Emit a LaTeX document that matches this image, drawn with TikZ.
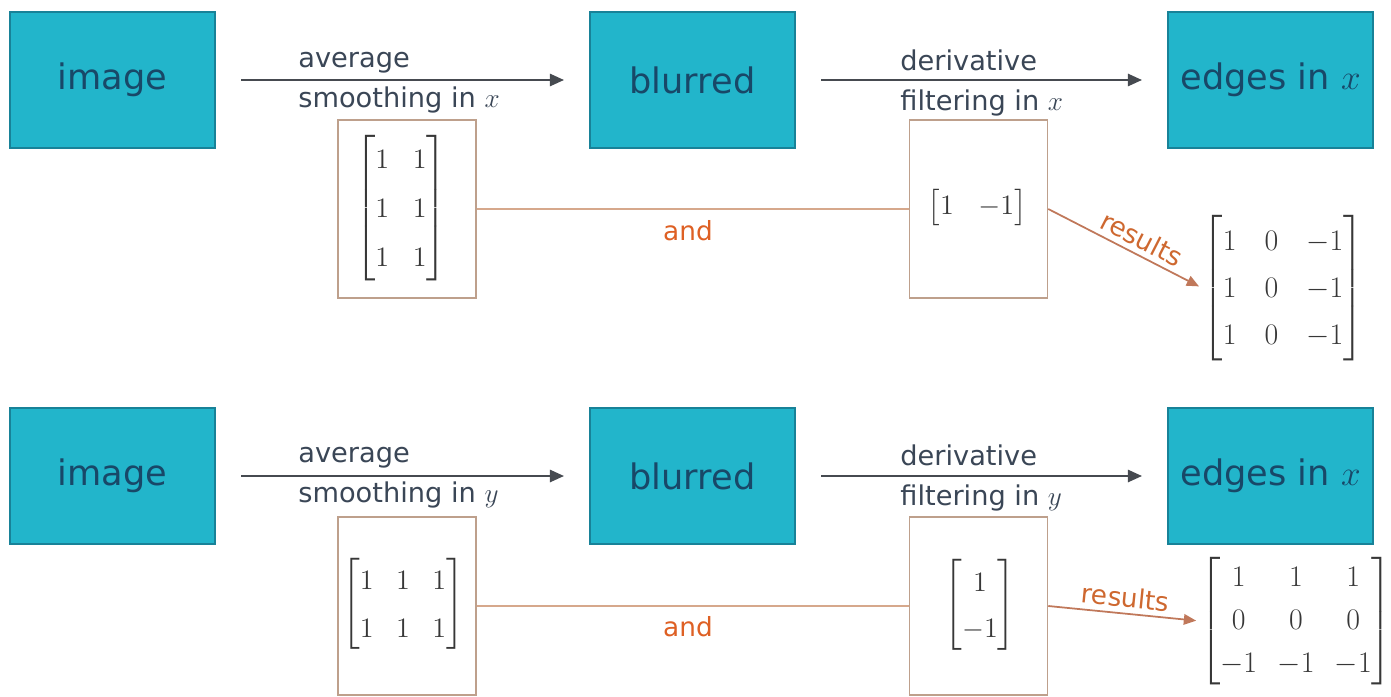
\RequirePackage{fix-cm}
\documentclass[tikz,border=0pt]{standalone}
\usepackage{amsmath}
\usepackage[no-math]{fontspec}
\usetikzlibrary{arrows.meta}
\newfontfamily\labelfont{DejaVu Sans}

\definecolor{tealfill}{RGB}{34,181,203}
\definecolor{tealdark}{RGB}{24,130,152}
\definecolor{boxtext}{RGB}{24,72,104}
\definecolor{labeltext}{RGB}{58,70,86}
\definecolor{flowgray}{RGB}{70,74,80}
\definecolor{kernelframe}{RGB}{190,160,140}
\definecolor{andcolor}{RGB}{214,168,140}
\definecolor{andtextcolor}{RGB}{222,96,36}
\definecolor{rescolor}{RGB}{192,120,90}
\definecolor{restextcolor}{RGB}{206,104,48}
\definecolor{mattext}{RGB}{55,55,55}

\begin{document}
\begin{tikzpicture}[x=0.02cm,y=-0.02cm,
  stage/.style={draw=tealdark, line width=1.2pt, fill=tealfill,
    minimum width=4.1cm, minimum height=2.72cm, inner sep=0pt,
    font=\labelfont\fontsize{20}{24}\selectfont, text=boxtext},
  kernelbox/.style={draw=kernelframe, line width=0.9pt,
    minimum width=2.76cm, minimum height=3.56cm, inner sep=0pt},
  kmat/.style={inner sep=0pt, text=mattext, font=\fontsize{16}{19.2}\selectfont},
  rmat/.style={inner sep=0pt, text=mattext, font=\fontsize{17}{20.4}\selectfont},
  flow/.style={draw=flowgray, line width=1pt, -{Triangle[length=8pt,width=7pt]},
    shorten <=0.5cm, shorten >=0.5cm},
  oplabel/.style={font=\labelfont\fontsize{15.5}{22.8}\selectfont, text=labeltext,
    align=left, anchor=west, inner sep=0pt},
  andline/.style={draw=andcolor, line width=1.1pt},
  andtext/.style={font=\labelfont\fontsize{15}{18}\selectfont, text=andtextcolor, inner sep=0pt},
  resarrow/.style={draw=rescolor, line width=1pt, -{Triangle[length=7pt,width=6pt]},
    shorten >=2pt},
  restext/.style={font=\labelfont\fontsize{15}{18}\selectfont, text=restextcolor, inner sep=3pt}
]
\useasboundingbox (0,0) rectangle (1391,696);

% ---- smoothing in x, derivative in x ----
\node[stage] (img1) at (112.5,80) {image};
\node[stage] (blr1) at (692.5,80) {blurred};
\node[stage] (edg1) at (1270.5,80) {edges in $x$};
\draw[flow] (img1) -- (blr1);
\draw[flow] (blr1) -- (edg1);
\node[oplabel] (lab1) at (298,83) {average\\smoothing in $x$};
\node[oplabel] (lab2) at (900,83) {derivative\\filtering in $x$};

\node[kernelbox] (k1) at (407,209) {};
\node[kernelbox] (k2) at (978.5,209) {};
\node[kmat] (m1) at (401,208)
  {$\arraycolsep=6.8pt\def\arraystretch{1.45}\begin{bmatrix}1&1\\1&1\\1&1\end{bmatrix}$};
\node[kmat] (m2) at (977,208)
  {$\arraycolsep=7pt\begin{bmatrix}1&-1\end{bmatrix}$};
\draw[andline] (k1.east) -- (k2.west);
\node[andtext] (and1) at (688,231) {and};
\node[rmat] (r1) at (1283,288)
  {$\arraycolsep=8pt\def\arraystretch{1.31}\begin{bmatrix}1&0&-1\\1&0&-1\\1&0&-1\end{bmatrix}$};
\draw[resarrow] (k2.east) -- node[pos=0.56, sloped, above, restext] {results} (r1.west);

% ---- smoothing in y, derivative in y ----
\node[stage] (img2) at (112.5,476) {image};
\node[stage] (blr2) at (692.5,476) {blurred};
\node[stage] (edg2) at (1270.5,476) {edges in $x$};
\draw[flow] (img2) -- (blr2);
\draw[flow] (blr2) -- (edg2);
\node[oplabel] (lab3) at (298,478) {average\\smoothing in $y$};
\node[oplabel] (lab4) at (900,478) {derivative\\filtering in $y$};

\node[kernelbox] (k3) at (407,606) {};
\node[kernelbox] (k4) at (978.5,606) {};
\node[kmat] (m3) at (403,604)
  {$\arraycolsep=6.4pt\def\arraystretch{1.42}\begin{bmatrix}1&1&1\\1&1&1\end{bmatrix}$};
\node[kmat] (m4) at (980,605)
  {$\def\arraystretch{1.36}\begin{bmatrix}1\\-1\end{bmatrix}$};
\draw[andline] (k3.east) -- (k4.west);
\node[andtext] (and2) at (688,627) {and};
\node[rmat] (r2) at (1296,621)
  {$\arraycolsep=5.8pt\def\arraystretch{1.19}\begin{bmatrix}1&1&1\\0&0&0\\-1&-1&-1\end{bmatrix}$};
\draw[resarrow] (k4.east) -- node[sloped, above, restext] {results} (r2.west);
\end{tikzpicture}
\end{document}
